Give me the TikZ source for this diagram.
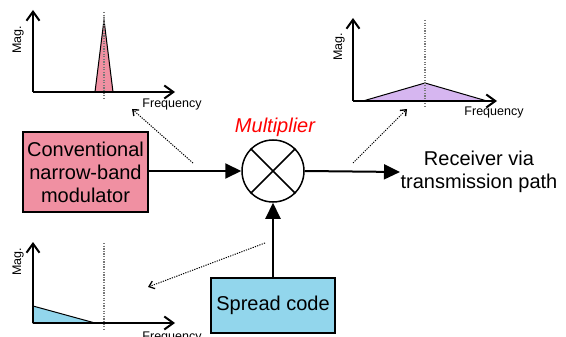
\documentclass[tikz,border=0pt]{standalone}
\usepackage{fontspec}
\setmainfont{Liberation Sans}
\usetikzlibrary{arrows.meta}

\definecolor{modpink}{RGB}{240,144,162}
\definecolor{codeblue}{RGB}{146,214,236}
\definecolor{spreadviolet}{RGB}{214,182,240}
\definecolor{markgray}{RGB}{120,120,120}

\tikzset{
  big/.style={font=\fontsize{20}{23}\selectfont, align=center},
  small/.style={font=\fontsize{12.5}{14}\selectfont},
  block/.style={draw, line width=1.4pt, big, inner sep=0pt},
  signal/.style={line width=2pt, -{Triangle[length=16pt,width=15pt]}},
  axis/.style={line width=2pt, -{Straight Barb[length=9pt,width=13pt,line width=2pt]}},
  spectrum/.style={draw, line width=1pt},
  centremark/.style={markgray, line width=1.3pt, dash pattern=on 1.3pt off 1.3pt},
  hint/.style={line width=1pt, dash pattern=on 1.2pt off 1.2pt,
    -{Straight Barb[length=5pt,width=8pt,line width=1.3pt]}},
}

\begin{document}
\begin{tikzpicture}[x=1pt,y=-1pt]
\useasboundingbox (0,0) rectangle (566,337);

% ---- main signal chain ----
\node[block, fill=modpink, minimum width=125pt, minimum height=80pt] (mod) at (85.5,172)
  {Conventional\\narrow-band\\modulator};
\node[draw, circle, line width=1.5pt, minimum size=62pt, inner sep=0pt] (mul) at (273,171) {};
\draw[line width=1.5pt] (mul.north west) -- (mul.south east);
\draw[line width=1.5pt] (mul.north east) -- (mul.south west);
\node[big, text=red, font=\fontsize{20}{23}\selectfont\itshape] (multxt) at (275,127) {Multiplier};
\node[block, fill=codeblue, minimum width=124pt, minimum height=55pt] (code) at (273,305.5)
  {Spread code};
\node[big] (rx) at (479,172) {Receiver via\\transmission path};
\coordinate (rxin) at (400,172);

\draw[signal] (mod.east |- mul.west) -- (mul.west);
\draw[signal] (mul.east) -- (rxin);
\draw[signal] (code.north) -- (mul.south);

% ---- spectrum before spreading ----
\coordinate (o1) at (33,92);
\coordinate (y1) at (33,10);
\coordinate (x1) at (175,92);
\draw[spectrum, fill=modpink] (95,92) -- (104,20) -- (113,92) -- cycle;
\draw[centremark] (104,12) -- (104,99);
\draw[axis] (o1) -- (y1);
\draw[axis] (o1) -- (x1);
\node[small, rotate=90] (mag1) at (18,40) {Mag.};
\node[small] (f1) at (172,104) {Frequency};

% ---- spectrum after spreading ----
\coordinate (o2) at (353,101);
\coordinate (y2) at (353,18);
\coordinate (x2) at (497,101);
\draw[spectrum, fill=spreadviolet] (363,101) -- (425,83) -- (487,101) -- cycle;
\draw[centremark] (425,20) -- (425,108);
\draw[axis] (o2) -- (y2);
\draw[axis] (o2) -- (x2);
\node[small, rotate=90] (mag2) at (339,47) {Mag.};
\node[small] (f2) at (494,112) {Frequency};

% ---- spectrum of the spread code (its label runs off the lower edge) ----
\coordinate (o3) at (33,323);
\coordinate (y3) at (33,242);
\coordinate (x3) at (175,323);
\draw[spectrum, fill=codeblue] (33,306) -- (95,323) -- (33,323) -- cycle;
\draw[centremark] (104,243) -- (104,330);
\draw[axis] (o3) -- (y3);
\draw[axis] (o3) -- (x3);
\node[small, rotate=90] (mag3) at (18,262) {Mag.};
\node[small] (f3) at (172,337) {Frequency};

% ---- pointers from the signal paths to their spectra ----
\coordinate (h1a) at (193,163);
\coordinate (h1b) at (132,109);
\coordinate (h2a) at (353,163);
\coordinate (h2b) at (407,109);
\coordinate (h3a) at (265,243);
\coordinate (h3b) at (148,287);
\draw[hint] (h1a) -- (h1b);
\draw[hint] (h2a) -- (h2b);
\draw[hint] (h3a) -- (h3b);
\end{tikzpicture}
\end{document}
